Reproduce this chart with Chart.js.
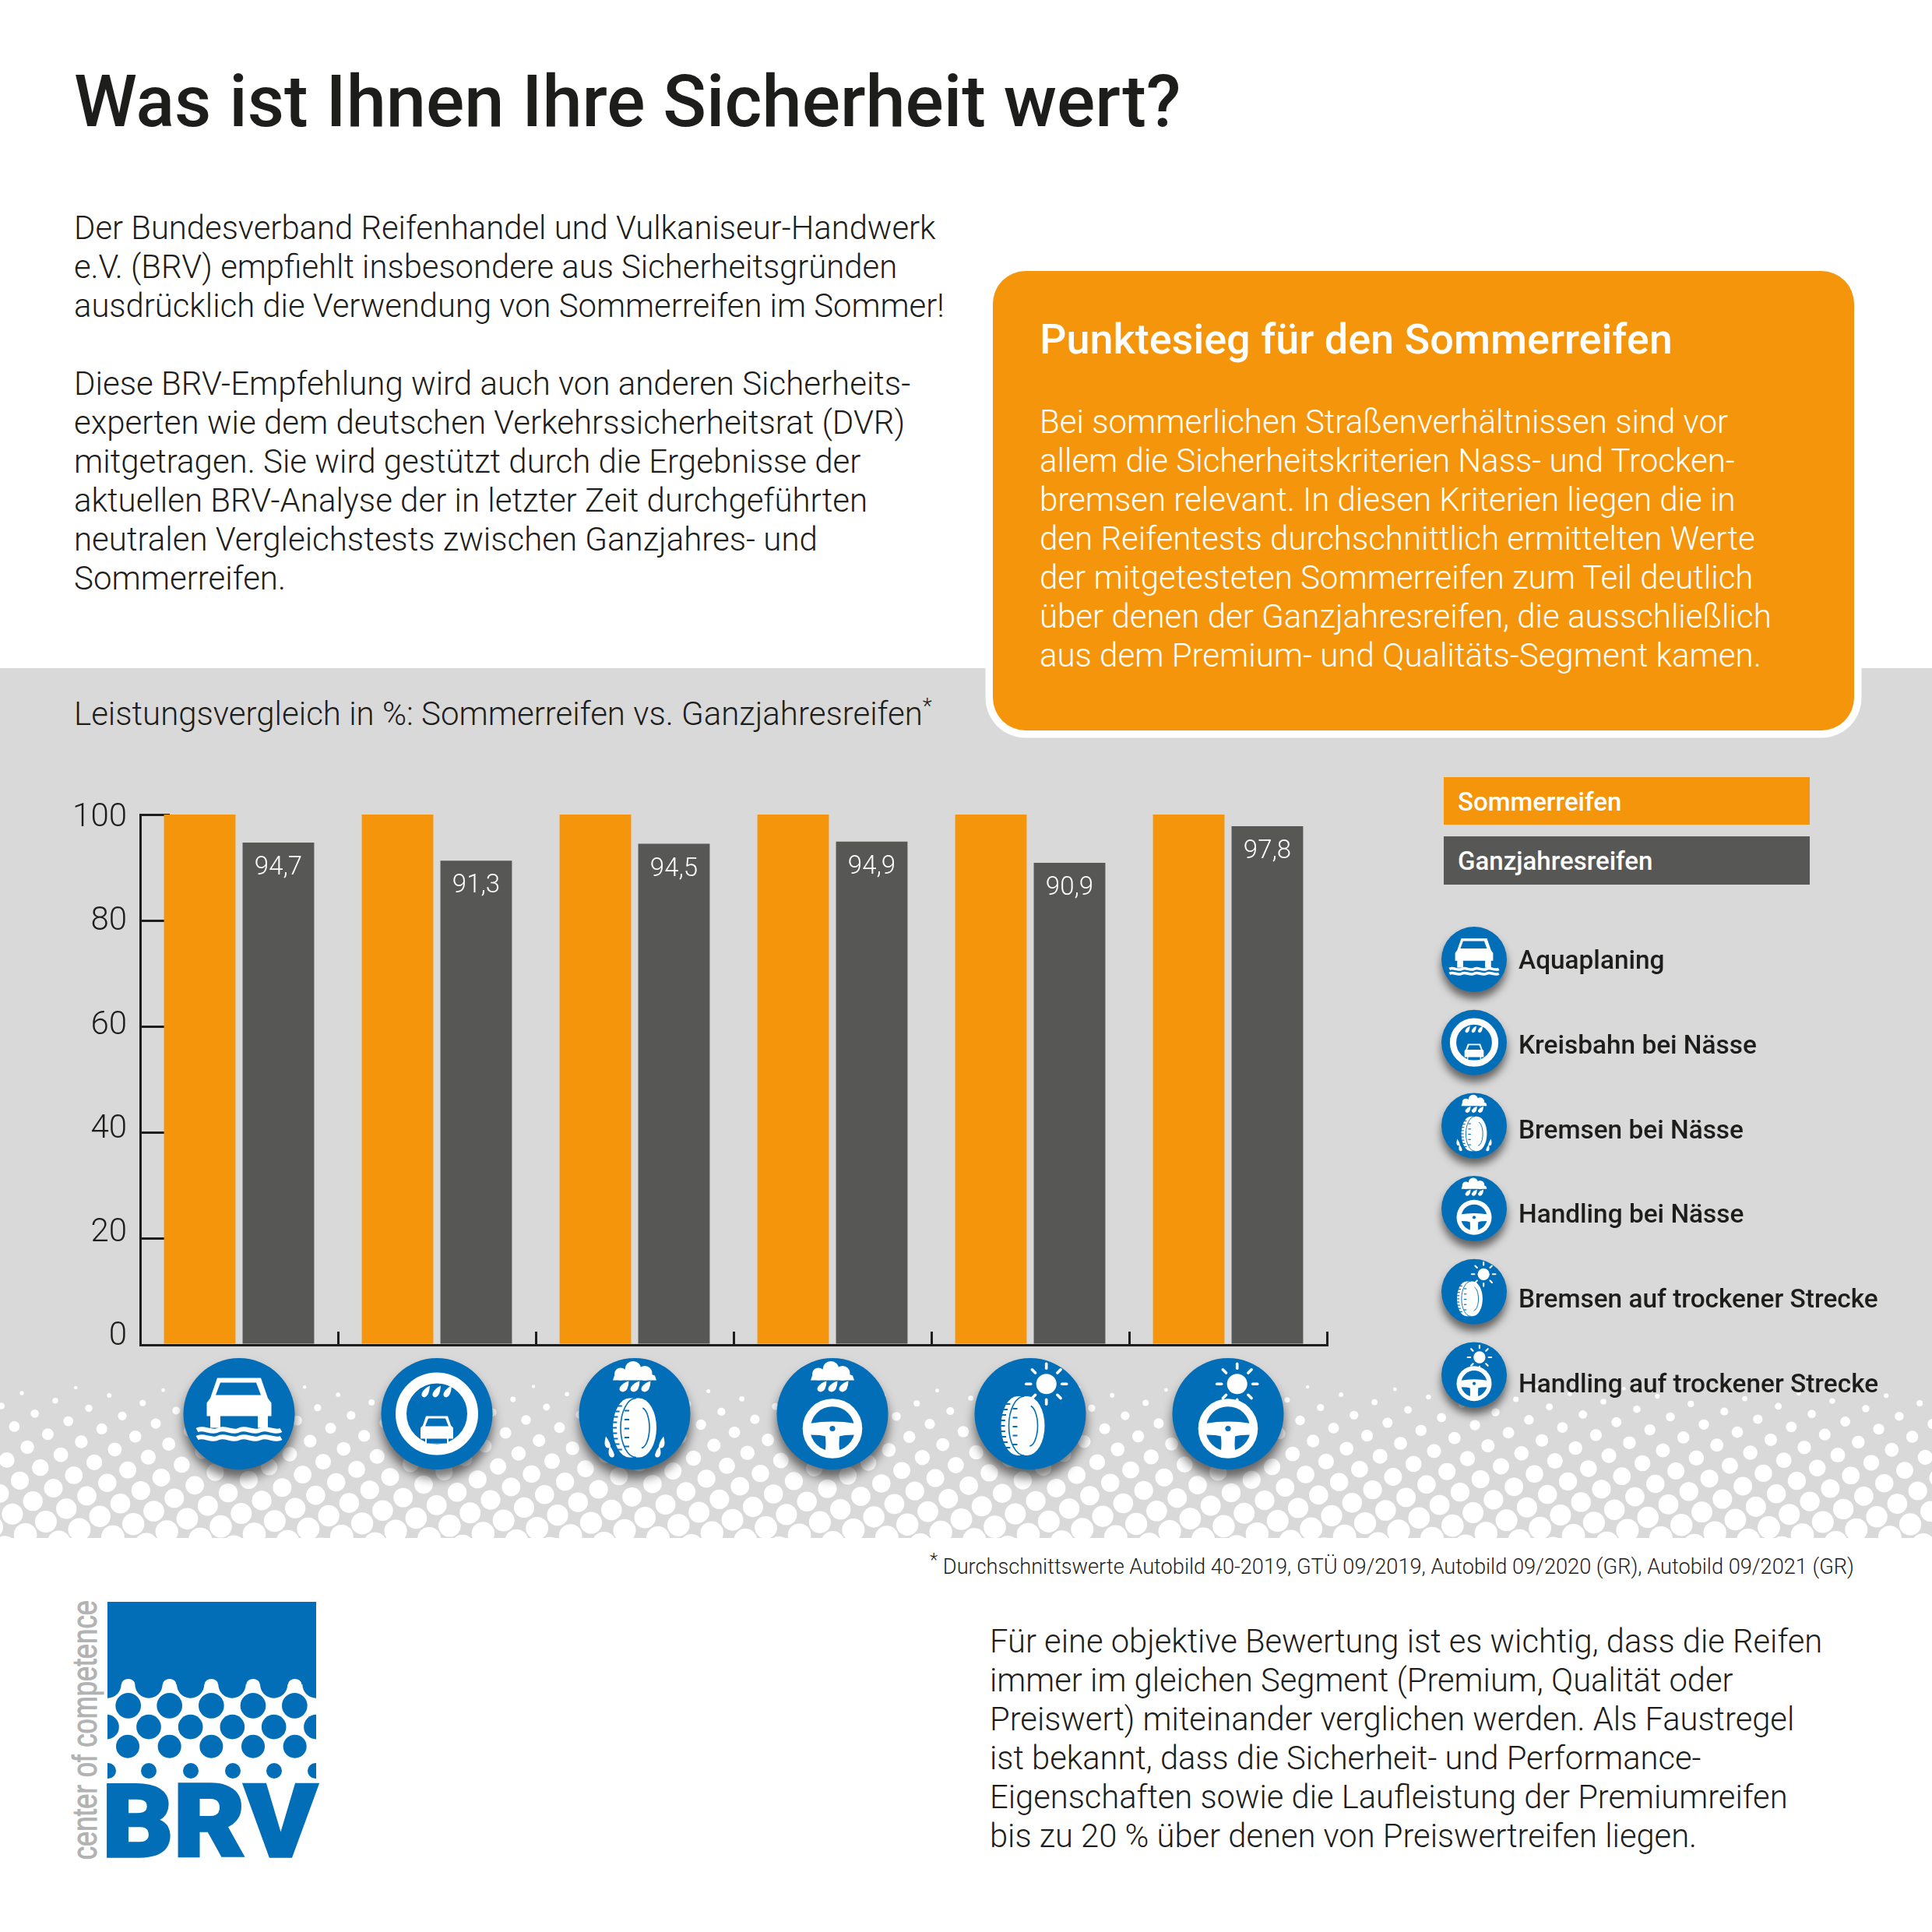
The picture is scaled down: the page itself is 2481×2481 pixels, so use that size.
<!DOCTYPE html>
<html lang="de">
<head>
<meta charset="utf-8">
<title>Was ist Ihnen Ihre Sicherheit wert?</title>
<script src="https://cdn.jsdelivr.net/npm/chart.js@4"></script>
<style>
  html, body { margin: 0; padding: 0; background: #fff; }
  body { position: relative; width: 2481px; height: 2481px; overflow: hidden; font-family: Roboto, sans-serif; color: #1d1d1b; }
  .abs { position: absolute; white-space: nowrap; }
  .body-text { font-size: 42px; line-height: 50px; font-weight: 300; }
  #band { position: absolute; left: 0; top: 858px; width: 2481px; height: 1117px; background: #d9d9d9; }
  #box { position: absolute; left: 1275px; top: 348px; width: 1106px; height: 590px; background: #f4950b; border-radius: 42px; box-shadow: 0 0 0 9.5px #fff; }
  #chart { position: absolute; left: 0; top: 1000px; }
  .legend-bar { position: absolute; left: 1854px; width: 470px; color: #fff; font-size: 33px; font-weight: 500; line-height: 63px; }
  .legend-bar span { margin-left: 18px; }
  .icon-label { position: absolute; left: 1950px; font-size: 33.4px; font-weight: 500; line-height: 40px; white-space: nowrap; }
</style>
</head>
<body>
<div id="band"></div>
<div class="abs" style="left:95px;top:72px;font-size:92px;line-height:118px;font-weight:500">Was ist Ihnen Ihre Sicherheit wert?</div>
<div class="abs body-text" style="left:95px;top:268px;font-size:41.8px">Der Bundesverband Reifenhandel und Vulkaniseur-Handwerk<br>e.V. (BRV) empfiehlt insbesondere aus Sicherheitsgründen<br>ausdrücklich die Verwendung von Sommerreifen im Sommer!</div>
<div class="abs body-text" style="left:95px;top:468px">Diese BRV-Empfehlung wird auch von anderen Sicherheits-<br>experten wie dem deutschen Verkehrssicherheitsrat (DVR)<br>mitgetragen. Sie wird gestützt durch die Ergebnisse der<br>aktuellen BRV-Analyse der in letzter Zeit durchgeführten<br>neutralen Vergleichstests zwischen Ganzjahres- und<br>Sommerreifen.</div>
<div id="box"></div>
<div class="abs" style="left:1335px;top:404px;font-size:54px;line-height:64px;font-weight:500;color:#fff">Punktesieg für den Sommerreifen</div>
<div class="abs body-text" style="left:1335px;top:517px;color:#fff;font-weight:350">Bei sommerlichen Straßenverhältnissen sind vor<br>allem die Sicherheitskriterien Nass- und Trocken-<br>bremsen relevant. In diesen Kriterien liegen die in<br>den Reifentests durchschnittlich ermittelten Werte<br>der mitgetesteten Sommerreifen zum Teil deutlich<br>über denen der Ganzjahresreifen, die ausschließlich<br>aus dem Premium- und Qualitäts-Segment kamen.</div>
<div class="abs body-text" style="left:95px;top:892px">Leistungsvergleich in %: Sommerreifen vs. Ganzjahresreifen<sup style="font-size:28px;line-height:0">*</sup></div>

<canvas id="chart" width="2481" height="975"></canvas>
<div id="legend"></div>
<div id="iconLabels"></div>

<div class="abs" style="left:1194px;top:1994px;font-size:27.2px;line-height:36px;font-weight:300"><sup style="font-size:24px;line-height:0">*</sup> Durchschnittswerte Autobild 40-2019, GTÜ 09/2019, Autobild 09/2020 (GR), Autobild 09/2021 (GR)</div>
<div class="abs body-text" style="left:1271px;top:2083px;font-size:41.7px">Für eine objektive Bewertung ist es wichtig, dass die Reifen<br>immer im gleichen Segment (Premium, Qualität oder<br>Preiswert) miteinander verglichen werden. Als Faustregel<br>ist bekannt, dass die Sicherheit- und Performance-<br>Eigenschaften sowie die Laufleistung der Premiumreifen<br>bis zu 20 % über denen von Preiswertreifen liegen.</div>

<svg class="abs" style="left:60px;top:2030px" width="400" height="400" viewBox="0 0 1200 1200">
  <defs><clipPath id="logoClip"><rect x="234" y="0" width="804" height="770"/></clipPath></defs>
  <g fill="#036eb8" clip-path="url(#logoClip)" id="logoDots"></g>
  <text x="214" y="1063" font-family="Roboto" font-weight="900" font-size="387" fill="#036eb8" stroke="#036eb8" stroke-width="10" textLength="828" lengthAdjust="spacingAndGlyphs">BRV</text>
  <text transform="translate(192,1075) rotate(-90)" font-family="Liberation Sans" font-size="135" fill="#b2b2b2" stroke="#b2b2b2" stroke-width="3" textLength="1000" lengthAdjust="spacingAndGlyphs">center of competence</text>
</svg>

<script>
const categories = ['Aquaplaning', 'Kreisbahn bei Nässe', 'Bremsen bei Nässe', 'Handling bei Nässe', 'Bremsen auf trockener Strecke', 'Handling auf trockener Strecke'];
const seriesNames = ['Sommerreifen', 'Ganzjahresreifen'];
const sommerreifen = [100, 100, 100, 100, 100, 100];
const ganzjahresreifen = [94.7, 91.3, 94.5, 94.9, 90.9, 97.8];
const yTicks = [0, 20, 40, 60, 80, 100];
const iconKinds = ['aqua', 'circle', 'tyreRain', 'wheelRain', 'tyreSun', 'wheelSun'];

const ORANGE = '#f4950b';
const GRAY = '#575756';
const BLUE = '#036eb8';
const INK = '#1d1d1b';

// Logo: Wellenkante und Punktreihen
(function buildLogo() {
  const g = document.getElementById('logoDots');
  let s = '<rect x="234" y="81" width="804" height="318"/>';
  [234, 393, 554, 714, 875, 1038].forEach(x => { s += `<circle cx="${x}" cy="399" r="53"/>`; });
  [314, 473, 634, 795, 956].forEach(x => { s += `<rect x="${x - 26}" y="378" width="52" height="40" rx="26" fill="#fff"/>`; });
  [314, 473, 634, 795, 955].forEach(x => { s += `<circle cx="${x}" cy="481" r="49"/>`; });
  [231, 393, 554, 715, 875, 1038].forEach(x => { s += `<circle cx="${x}" cy="563" r="47.5"/>`; });
  [312, 473, 634, 795, 956].forEach(x => { s += `<circle cx="${x}" cy="638" r="45"/>`; });
  [237, 393, 555, 717, 876, 1035].forEach(x => { s += `<circle cx="${x}" cy="732" r="30"/>`; });
  g.innerHTML = s;
})();

// Legende als HTML
seriesNames.forEach((name, i) => {
  const d = document.createElement('div');
  d.className = 'legend-bar';
  d.style.top = (i === 0 ? 998 : 1074) + 'px';
  d.style.height = (i === 0 ? 61 : 62) + 'px';
  d.style.background = i === 0 ? ORANGE : GRAY;
  d.innerHTML = '<span>' + name + '</span>';
  document.getElementById('legend').appendChild(d);
});
const legendIconY = i => 1232 + i * 106.7;
categories.forEach((name, i) => {
  const d = document.createElement('div');
  d.className = 'icon-label';
  d.style.top = (1213 + i * 108.8) + 'px';
  d.textContent = name;
  document.getElementById('iconLabels').appendChild(d);
});

// --- Piktogramme -----------------------------------------------------------
function cloud(c) {
  c.fillStyle = '#fff';
  c.beginPath();
  c.arc(-18, -51, 8, 0, Math.PI * 2);
  c.arc(-2, -57, 10.5, 0, Math.PI * 2);
  c.fill();
  c.beginPath();
  c.arc(13, -52, 9.5, 0, Math.PI * 2);
  c.fill();
  c.beginPath();
  c.moveTo(-28, -43);
  c.lineTo(-26, -49);
  c.lineTo(-10, -53);
  c.lineTo(16, -53);
  c.lineTo(26, -49);
  c.lineTo(28, -43);
  c.closePath();
  c.fill();
  [-14, 0, 14].forEach(x => {
    c.beginPath();
    c.moveTo(x + 6.5, -42);
    c.quadraticCurveTo(x + 6, -29, x - 1, -28);
    c.quadraticCurveTo(x - 7, -29, x - 5, -34);
    c.quadraticCurveTo(x - 1, -40, x + 6.5, -42);
    c.fill();
  });
}

function sun(c, sx) {
  const sy = -38.3;
  c.fillStyle = '#fff';
  c.beginPath();
  c.arc(sx, sy, 13, 0, Math.PI * 2);
  c.fill();
  c.strokeStyle = '#fff';
  c.lineWidth = 3.6;
  c.lineCap = 'round';
  for (let k = 0; k < 8; k++) {
    const a = k * Math.PI / 4;
    c.beginPath();
    c.moveTo(sx + Math.cos(a) * 20, sy + Math.sin(a) * 20);
    c.lineTo(sx + Math.cos(a) * 26, sy + Math.sin(a) * 26);
    c.stroke();
  }
}

function wheel(c) {
  const wy = 19;
  c.fillStyle = '#fff';
  c.beginPath();
  c.arc(0, wy, 38.3, 0, Math.PI * 2);
  c.fill();
  c.fillStyle = BLUE;
  c.beginPath();
  c.arc(0, wy, 28.3, 0, Math.PI * 2);
  c.fill();
  // Speichen
  c.save();
  c.beginPath();
  c.arc(0, wy, 29, 0, Math.PI * 2);
  c.clip();
  c.fillStyle = '#fff';
  c.beginPath();
  c.moveTo(-32, 13);
  c.quadraticCurveTo(0, 7, 32, 13);
  c.lineTo(32, 60);
  c.lineTo(-32, 60);
  c.closePath();
  c.fill();
  c.fillStyle = BLUE;
  [-1, 1].forEach(m => {
    c.beginPath();
    c.moveTo(m * -29, 27);
    c.quadraticCurveTo(m * -14, 27, m * -9, 29);
    c.quadraticCurveTo(m * -8, 38, m * -9, 48);
    c.quadraticCurveTo(m * -24, 44, m * -29, 27);
    c.fill();
  });
  c.restore();
  c.beginPath();
  c.arc(0, wy, 3.6, 0, Math.PI * 2);
  c.fill();
}

function tyre(c, ox, oy) {
  c.save();
  c.translate(ox, oy);
  c.fillStyle = '#fff';
  c.beginPath();
  c.ellipse(-7, 0, 21, 38, 0, Math.PI / 2, Math.PI * 1.5);
  c.lineTo(6, -38);
  c.ellipse(6, 0, 22, 38, 0, -Math.PI / 2, Math.PI / 2);
  c.closePath();
  c.fill();
  c.strokeStyle = BLUE;
  c.lineWidth = 1.6;
  c.lineCap = 'butt';
  c.beginPath();
  c.ellipse(2, 0, 20, 38, 0, Math.PI / 2, Math.PI * 1.5);
  c.stroke();
  // Profil
  for (let y = -28; y <= 28; y += 7) {
    c.lineWidth = 2;
    const w = 1 - Math.pow(y / 38, 2);
    const xo = -7 - 21 * Math.sqrt(w);
    c.beginPath();
    c.moveTo(xo - 1, y);
    c.lineTo(xo + 5, y);
    c.stroke();
  }
  for (let y = -22; y <= 24; y += 11.5) {
    c.lineWidth = 2;
    c.beginPath();
    c.moveTo(-13, y);
    c.lineTo(-7, y);
    c.stroke();
  }
  c.lineWidth = 1.6;
  c.beginPath();
  c.ellipse(8, 0, 11, 26, 0, -Math.PI / 2.3, Math.PI / 2.1);
  c.stroke();
  c.restore();
}

function splash(c) {
  c.fillStyle = '#fff';
  [-1, 1].forEach(m => {
    [[34, 38, 6], [29, 50, 6]].forEach(([x, y, r]) => {
      c.beginPath();
      c.moveTo(m * (x + 3), y - 9);
      c.quadraticCurveTo(m * (x + r + 1), y + r * 0.9, m * x, y + r);
      c.quadraticCurveTo(m * (x - r - 1), y + r * 0.9, m * (x + 3), y - 9);
      c.fill();
    });
  });
}

function smallCar(c) {
  c.fillStyle = '#fff';
  c.beginPath();
  c.moveTo(-14, 3);
  c.lineTo(14, 3);
  c.lineTo(18, 15);
  c.lineTo(21, 18);
  c.lineTo(21, 32);
  c.lineTo(15, 32);
  c.lineTo(15, 38);
  c.lineTo(-15, 38);
  c.lineTo(-15, 32);
  c.lineTo(-21, 32);
  c.lineTo(-21, 18);
  c.lineTo(-18, 15);
  c.closePath();
  c.fill();
  c.fillStyle = BLUE;
  c.beginPath();
  c.moveTo(-11, 6);
  c.lineTo(11, 6);
  c.lineTo(15, 16);
  c.lineTo(-15, 16);
  c.closePath();
  c.fill();
  c.fillRect(-13, 32, 26, 6);
}

function waves(c, y0) {
  c.strokeStyle = '#fff';
  c.lineWidth = 6;
  c.lineCap = 'butt';
  c.beginPath();
  c.moveTo(-54, y0);
  for (let k = 0; k < 4; k++) {
    const x = -54 + k * 27;
    c.bezierCurveTo(x + 9, y0 - 5, x + 18, y0 + 5, x + 27, y0);
  }
  c.stroke();
}

function drawIcon(c, kind, cx, cy, r, shadow) {
  const s = r / 71.5;
  c.save();
  c.translate(cx, cy);
  c.save();
  c.shadowColor = 'rgba(0,0,0,0.55)';
  c.shadowBlur = shadow;
  c.shadowOffsetY = shadow * 0.8;
  c.fillStyle = BLUE;
  c.beginPath();
  c.arc(0, 0, r, 0, Math.PI * 2);
  c.fill();
  c.restore();
  c.scale(s, s);
  if (kind === 'aqua') {
    c.fillStyle = '#fff';
    c.beginPath();
    c.moveTo(-28, -46);
    c.lineTo(28, -46);
    c.lineTo(37, -20);
    c.lineTo(41.5, -14);
    c.lineTo(41.5, 3);
    c.lineTo(-41.5, 3);
    c.lineTo(-41.5, -14);
    c.lineTo(-37, -20);
    c.closePath();
    c.fill();
    c.fillRect(-37, 0, 13, 18);
    c.fillRect(24, 0, 13, 18);
    c.fillStyle = BLUE;
    c.beginPath();
    c.moveTo(-24, -40);
    c.lineTo(22, -40);
    c.lineTo(28, -24);
    c.lineTo(-30, -24);
    c.closePath();
    c.fill();
    waves(c, 21);
    waves(c, 31);
  } else if (kind === 'circle') {
    c.strokeStyle = '#fff';
    c.lineWidth = 14;
    c.beginPath();
    c.arc(0, 0, 46, 0, Math.PI * 2);
    c.stroke();
    c.save();
    c.translate(0, -3);
    c.fillStyle = '#fff';
    [-15, -1, 13].forEach(x => {
      c.beginPath();
      c.moveTo(x + 6, -33);
      c.quadraticCurveTo(x + 5, -19, x - 1, -18);
      c.quadraticCurveTo(x - 6, -19, x - 4, -24);
      c.quadraticCurveTo(x - 1, -30, x + 6, -33);
      c.fill();
    });
    c.restore();
    smallCar(c);
  } else if (kind === 'tyreRain') {
    cloud(c);
    tyre(c, 0, 18);
    splash(c);
  } else if (kind === 'wheelRain') {
    cloud(c);
    wheel(c);
  } else if (kind === 'tyreSun') {
    tyre(c, -9.5, 15.5);
    sun(c, 20.7);
  } else if (kind === 'wheelSun') {
    wheel(c);
    sun(c, 11.7);
  }
  c.restore();
}

// Rasterpunkte am unteren Rand des grauen Bandes
const dotStops = [[1782, 4.5], [1789, 5.3], [1825, 12.7], [1858, 17.3], [1894, 22.7], [1925, 25], [1953, 28], [1975, 30]];
function dotSize(y) {
  for (let i = 1; i < dotStops.length; i++) {
    if (y <= dotStops[i][0]) {
      const [y0, d0] = dotStops[i - 1], [y1, d1] = dotStops[i];
      return d0 + (d1 - d0) * (y - y0) / (y1 - y0);
    }
  }
  return 30;
}

const backgroundPlugin = {
  id: 'halftone',
  beforeDraw(chart) {
    const c = chart.ctx;
    const top = chart.canvas.offsetTop;
    c.save();
    c.fillStyle = '#fff';
    for (let a = -20; a < 90; a++) {
      for (let b = -60; b < 60; b++) {
        const x = 44.7 + a * 43 - b * 26.3;
        const y = 1815.3 + a * 9.8 + b * 16.6;
        if (y < 1780 || y > 1995 || x < -20 || x > 2500) continue;
        c.beginPath();
        c.arc(x, y - top, dotSize(y) / 2, 0, Math.PI * 2);
        c.fill();
      }
    }
    c.restore();
  }
};

const valueLabelPlugin = {
  id: 'valueLabels',
  afterDatasetsDraw(chart) {
    const c = chart.ctx;
    const bars = chart.getDatasetMeta(1).data;
    c.save();
    c.fillStyle = '#fff';
    c.font = '300 33px Roboto';
    c.textAlign = 'center';
    c.textBaseline = 'middle';
    bars.forEach((bar, i) => {
      c.fillText(String(ganzjahresreifen[i]).replace('.', ','), bar.x, bar.y + 33);
    });
    c.restore();
  }
};

const iconPlugin = {
  id: 'icons',
  afterDraw(chart) {
    const c = chart.ctx;
    const xs = chart.scales.x;
    const top = chart.canvas.offsetTop;
    iconKinds.forEach((kind, i) => {
      drawIcon(c, kind, xs.getPixelForValue(i), 1815.5 - top, 71.5, 14);
      drawIcon(c, kind, 1893, legendIconY(i) - top, 42, 11);
    });
  }
};

new Chart(document.getElementById('chart').getContext('2d'), {
  type: 'bar',
  data: {
    labels: categories,
    datasets: [
      { label: seriesNames[0], data: sommerreifen, backgroundColor: ORANGE },
      { label: seriesNames[1], data: ganzjahresreifen, backgroundColor: GRAY }
    ]
  },
  plugins: [backgroundPlugin, valueLabelPlugin, iconPlugin],
  options: {
    responsive: false,
    animation: false,
    layout: { padding: { top: 46, right: 777, left: 0, bottom: 0 } },
    datasets: { bar: { categoryPercentage: 0.795, barPercentage: 0.91, borderWidth: 0 } },
    plugins: { legend: { display: false }, title: { display: false }, tooltip: { enabled: false } },
    scales: {
      x: {
        offset: true,
        afterFit(s) { s.height = 248; },
        ticks: { display: false },
        border: { color: INK, width: 3 },
        grid: { offset: true, drawOnChartArea: false, tickLength: -17, color: INK, lineWidth: 3 }
      },
      y: {
        min: 0,
        max: 100,
        weight: 0,
        afterBuildTicks(s) { s.ticks = yTicks.map(v => ({ value: v })); },
        afterFit(s) { s.width = 0; },
        ticks: { display: false },
        border: { color: INK, width: 3 },
        grid: { drawOnChartArea: false, tickLength: -38, color: INK, lineWidth: 3 }
      },
      // Beschriftung sitzt im Original etwas enger als die Teilstriche
      yLabels: {
        position: 'left',
        min: -1.65,
        max: 100.75,
        weight: 1,
        afterBuildTicks(s) { s.ticks = yTicks.map(v => ({ value: v })); },
        afterFit(s) { s.width = 180; },
        grid: { display: false, drawTicks: false },
        border: { display: false },
        ticks: { color: INK, font: { family: 'Roboto', size: 42, weight: '300' }, padding: 17, callback: v => String(v) }
      }
    }
  }
});
</script>
</body>
</html>
